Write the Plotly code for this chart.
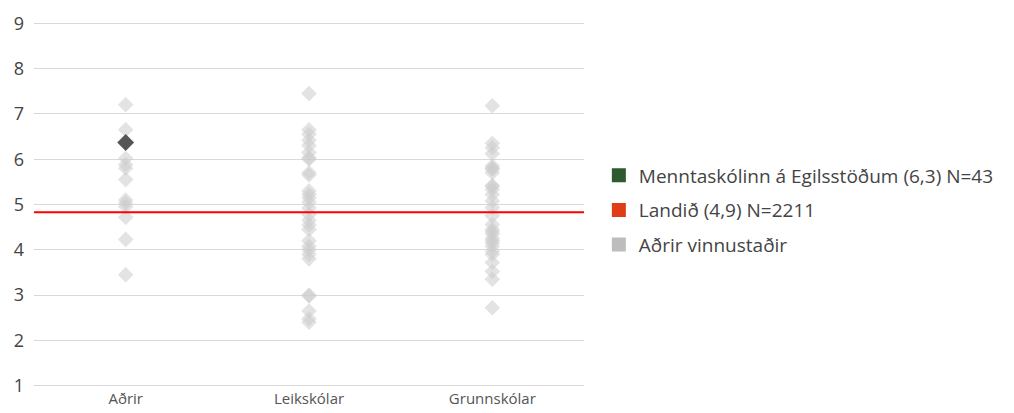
import plotly.graph_objects as go

FONT = "Open Sans"

categories = ["Aðrir", "Leikskólar", "Grunnskólar"]

# other workplaces (grey diamonds), one list per category
adrir_vals = [7.2, 6.65, 6.02, 5.88, 5.8, 5.55, 5.1, 5.03, 4.95, 4.72, 4.23, 3.45]
leik_vals = [7.45, 6.65, 6.55, 6.42, 6.3, 6.15, 6.03, 6.0, 5.7, 5.65, 5.3, 5.22,
             5.15, 5.05, 4.92, 4.78, 4.65, 4.55, 4.45, 4.2, 4.08, 4.0, 3.9, 3.8,
             2.98, 3.0, 2.65, 2.48, 2.4]
grunn_vals = [7.18, 6.35, 6.25, 6.12, 5.85, 5.8, 5.78, 5.7, 5.42, 5.4, 5.33, 5.22,
              5.08, 4.93, 4.75, 4.56, 4.45, 4.4, 4.35, 4.25, 4.2, 4.15, 4.08,
              3.97, 3.9, 3.72, 3.52, 3.35, 2.72]

school_cat = "Aðrir"
school_val = 6.37
national_val = 4.83

legend_names = ["Menntaskólinn á Egilsstöðum (6,3) N=43", "Landið (4,9) N=2211", "Aðrir vinnustaðir"]
legend_colors = ["#2d5a2e", "#e03c16", "#bdbdbd"]

fig = go.Figure()

for cat, vals in zip(categories, [adrir_vals, leik_vals, grunn_vals]):
    fig.add_trace(go.Scatter(
        x=[cat] * len(vals), y=vals, mode="markers",
        marker=dict(symbol="diamond", size=12, color="#cccccc", opacity=0.55),
        showlegend=False, hoverinfo="y",
    ))

fig.add_trace(go.Scatter(
    x=[school_cat], y=[school_val], mode="markers",
    marker=dict(symbol="diamond", size=13, color="#555555"),
    showlegend=False,
))

# national average line across full width
fig.add_shape(type="line", xref="paper", x0=0, x1=1, yref="y", y0=national_val, y1=national_val,
              line=dict(color="#ff0000", width=2))

# legend entries as square swatches
for i, (name, col) in enumerate(zip(legend_names, legend_colors)):
    fig.add_trace(go.Scatter(
        x=[None], y=[None], mode="markers", name=name,
        marker=dict(symbol="square", size=14, color=col),
        legendgroup=f"g{i}",
    ))

fig.update_layout(
    width=1014, height=413,
    margin=dict(l=26, r=438, t=13, b=33),
    plot_bgcolor="white", paper_bgcolor="white",
    font=dict(family=FONT, size=16, color="#444444"),
    legend=dict(x=1.027, xanchor="left", y=0.484, yanchor="middle",
                font=dict(size=19, color="#444444"), tracegroupgap=7, itemwidth=30),
)
fig.update_xaxes(categoryorder="array", categoryarray=categories, range=[-0.5, 2.5],
                 showgrid=False, showline=False, ticks="", automargin=False, ticklabelstandoff=0,
                 tickfont=dict(size=15, color="#555555"))
fig.update_yaxes(range=[0.95, 9.05], dtick=1, showgrid=True, gridcolor="#d9d9d9", gridwidth=1,
                 zeroline=False, showline=False, ticks="", automargin=False, ticklabelstandoff=9,
                 tickfont=dict(size=18, color="#444444"))

fig.write_html("out.html")
